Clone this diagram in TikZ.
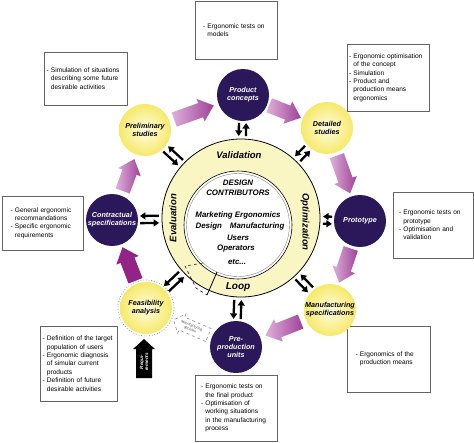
\documentclass[tikz,border=0pt]{standalone}
\usepackage{fontspec}
\setmainfont{Liberation Sans}
\usetikzlibrary{arrows.meta,calc}
\definecolor{navy}{RGB}{42,24,90}
\definecolor{ylw}{RGB}{246,233,105}
\definecolor{ylwl}{RGB}{255,253,228}
\definecolor{ringc}{RGB}{250,246,196}
\definecolor{pinkl}{RGB}{222,176,218}
\definecolor{purp}{RGB}{158,66,152}
\definecolor{mag}{RGB}{146,36,136}
\definecolor{boxc}{RGB}{100,100,100}
\newcommand{\hi}{\phantom{-\ }}
\hyphenpenalty=10000
\tikzset{
 pics/barrow/.style n args={5}{code={
   \path[#5] ({-#1/2},{-#2}) -- ({#1/2-#4},{-#2}) -- ({#1/2-#4},{-#3}) -- ({#1/2},0) -- ({#1/2-#4},{#3}) -- ({#1/2-#4},{#2}) -- ({-#1/2},{#2}) -- cycle;
 }},
}
\newcommand{\twoway}[1]{%
 \path let \p1=($(#1)-(ring.center)$), \n1={atan2(\y1,\x1)}, \n2={veclen(\x1,\y1)-28} in
  coordinate (#1-oa) at ($(ring.center)+(\n1:82pt)+(\n1-90:3.6pt)$)
  coordinate (#1-ob) at ($(ring.center)+(\n1:\n2)+(\n1-90:3.6pt)$)
  coordinate (#1-ia) at ($(ring.center)+(\n1:\n2)+(\n1+90:3.6pt)$)
  coordinate (#1-ib) at ($(ring.center)+(\n1:82pt)+(\n1+90:3.6pt)$);
 \draw[blk] (#1-oa) -- (#1-ob);
 \draw[blk] (#1-ia) -- (#1-ib);
}
\begin{document}
\begin{tikzpicture}[x=1pt,y=-1pt,
  darknode/.style={circle,fill=navy,text=white,font=\fontsize{7.2}{8}\selectfont\bfseries\itshape,align=center,minimum size=52pt,inner sep=0pt},
  yelnode/.style={circle,inner color=ylwl,outer color=ylw,font=\fontsize{7.2}{8}\selectfont\bfseries\itshape,align=center,minimum size=52pt,inner sep=0pt},
  infobox/.style={draw=boxc,line width=0.8pt,fill=white,font=\fontsize{6.6}{8.4}\selectfont,align=left,inner sep=0pt},
  ringlbl/.style={font=\fontsize{9.5}{10}\selectfont\bfseries\itshape,inner sep=0pt},
  ctext/.style={font=\fontsize{7.9}{9.6}\selectfont\bfseries\itshape,align=center,inner sep=0pt},
  blk/.style={line width=2.3pt,-{Triangle[length=5.5pt,width=7pt]}},
]
\useasboundingbox (0,0) rectangle (474,442);
\fill[white] (0,0) rectangle (474,442);

% info boxes
\node[infobox,minimum width=82pt,minimum height=58pt,text width=66pt] (b1) at (236,30) {- Ergonomic tests on\\\hi models};
\node[infobox,minimum width=82pt,minimum height=67pt,text width=78pt] (b2) at (388,77.5) {- Ergonomic optimisation\\\hi of the concept\\- Simulation\\- Product and\\\hi production means\\\hi ergonomics};
\node[infobox,minimum width=83pt,minimum height=53pt,text width=78pt] (b3) at (85.5,78.5) {- Simulation of situations\\\hi describing some future\\\hi desirable activities};
\node[infobox,minimum width=81pt,minimum height=54pt,text width=64pt] (b4) at (42.5,223) {- General ergonomic\\\hi recommandations\\- Specific ergonomic\\\hi requirements};
\node[infobox,minimum width=80pt,minimum height=66pt,text width=68pt] (b5) at (433,225) {- Ergonomic tests on\\\hi prototype\\- Optimisation and\\\hi validation};
\node[infobox,minimum width=77pt,minimum height=75pt,text width=72pt] (b6) at (78.5,363.5) {- Definition of the target\\\hi population of users\\- Ergonomic diagnosis\\\hi of simular current\\\hi products\\- Definition of future\\\hi desirable activities};
\node[infobox,minimum width=82pt,minimum height=66pt,text width=70pt] (b7) at (236,408) {- Ergonomic tests on\\\hi the final product\\- Optimisation of\\\hi working situations\\\hi in the manufacturing\\\hi process};
\node[infobox,minimum width=83pt,minimum height=66pt,text width=66pt] (b8) at (388.5,359) {- Ergonomics of the\\\hi production means};

% ring
\node[circle,draw,line width=0.8pt,fill=ringc,minimum size=158pt,inner sep=0pt] (ring) at (241,218) {};
\node[circle,draw,line width=0.6pt,fill=white,minimum size=108pt,inner sep=0pt] (core) at (238,225) {};
\draw[gray,line width=0.4pt] (core.center) circle (51.5pt);
\coordinate (l1) at (217,272);
\coordinate (l2) at (207,295);
\coordinate (d1) at (203,263);
\coordinate (d2) at (185,266);
\coordinate (d3) at (196,288);
\draw[line width=0.8pt] (l1) -- (l2);
\draw[dashed,line width=0.5pt] (d1) -- (d2) -- (d3) -- (l2);

\node[ringlbl] (val) at (239,155) {Validation};
\node[ringlbl,rotate=90] (eva) at (173,218) {Evaluation};
\node[ringlbl,rotate=-90] (opt) at (305,222) {Optimization};
\node[ringlbl,font=\fontsize{10}{11}\selectfont\bfseries\itshape] (loop) at (238,287) {Loop};

\node[ctext] (dc) at (238,188) {DESIGN\\CONTRIBUTORS};
\node[ctext] (mk) at (238,215) {Marketing Ergonomics};
\node[ctext] (dm) at (240,226) {Design\hspace{8pt}Manufacturing};
\node[ctext] (us) at (238,238) {Users};
\node[ctext] (op) at (236,249) {Operators};
\node[ctext] (etc) at (237,262) {etc...};

% stage circles
\node[darknode] (pc) at (243,95) {Product\\concepts};
\node[yelnode] (ds) at (327,128) {Detailed\\studies};
\node[darknode] (pt) at (360,221) {Prototype};
\node[yelnode] (ms) at (330,310) {Manufacturing\\specifications};
\node[darknode] (pp) at (236,347) {Pre-\\production\\units};
\node[yelnode] (fa) at (146,308) {Feasibility\\analysis};
\node[darknode] (cs) at (112,220) {Contractual\\specifications};
\node[yelnode] (ps) at (145,130) {Preliminary\\studies};
\draw[dotted,gray,line width=0.7pt] (fa) circle (28pt);

% ring <-> stage arrows
\twoway{pc}\twoway{ds}\twoway{pt}\twoway{ms}\twoway{pp}\twoway{fa}\twoway{cs}\twoway{ps}

% purple process arrows
\path (cs) -- pic[sloped,allow upside down]{barrow={34}{7.5}{12}{14}{left color=pinkl,right color=purp}} (ps);
\path (ps) -- pic[sloped,allow upside down]{barrow={42}{7.5}{12}{14}{left color=pinkl,right color=purp}} (pc);
\path (pc) -- pic[sloped,allow upside down]{barrow={34}{7.5}{12}{14}{left color=pinkl,right color=purp}} (ds);
\path (ds) -- pic[sloped,allow upside down]{barrow={40}{7.5}{12}{14}{left color=pinkl,right color=purp}} (pt);
\path (pt) -- pic[sloped,allow upside down]{barrow={36}{7.5}{12}{14}{left color=pinkl,right color=purp}} (ms);
\path (ms) -- pic[sloped,allow upside down]{barrow={38}{7.5}{12}{14}{left color=pinkl,right color=purp}} (pp);
\path (fa) -- pic[sloped,allow upside down]{barrow={36}{7.5}{12}{14}{fill=mag}} (cs);

% manufacturing decision
\path (pp) -- pic[sloped,allow upside down]{barrow={38}{7}{10.5}{9}{fill=white,draw=gray,dashed,line width=0.5pt}} (fa);
\path (fa) -- node[sloped,font=\fontsize{3.6}{4.4}\selectfont,align=center,inner sep=0pt,text=gray!60!black] (md) {Manufacturing\\decision} (pp);

% requirements
\coordinate (rq1) at (144,378);
\coordinate (rq2) at (144,339);
\path (rq1) -- pic[sloped,allow upside down]{barrow={39}{8}{11}{10}{fill=black}} (rq2);
\node[rotate=90,text=white,font=\fontsize{4.6}{5}\selectfont\bfseries\itshape,align=center,inner sep=0pt] (req) at (144,362) {Requi-\\rements};
\end{tikzpicture}
\end{document}
